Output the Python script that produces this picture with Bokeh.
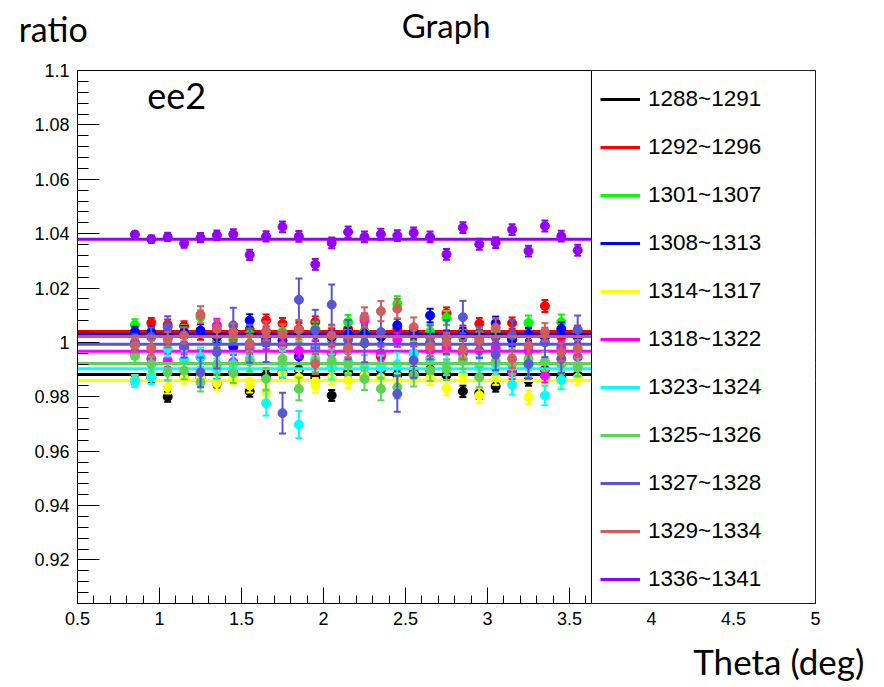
from bokeh.plotting import figure
from bokeh.models import (Range1d, SingleIntervalTicker, CustomJSTickFormatter, Label,
                          BoxAnnotation, Legend, LegendItem, ColumnDataSource)
from bokeh.embed import file_html
from bokeh.resources import INLINE

# ---------------- data ----------------
theta = [0.85, 0.95, 1.05, 1.15, 1.25, 1.35, 1.45, 1.55, 1.65, 1.75, 1.85, 1.95, 2.05, 2.15,
         2.25, 2.35, 2.45, 2.55, 2.65, 2.75, 2.85, 2.95, 3.05, 3.15, 3.25, 3.35, 3.45, 3.55]

labels = ["1288~1291", "1292~1296", "1301~1307", "1308~1313", "1314~1317", "1318~1322",
          "1323~1324", "1325~1326", "1327~1328", "1329~1334", "1336~1341"]
colors = ["#000000", "#ff0000", "#00ff00", "#0000ff", "#ffff00", "#ff00ff",
          "#00ffff", "#59d454", "#5954d8", "#d05c5e", "#9400f5"]

r_1288 = [0.986, 0.987, 0.980, 0.988, 0.987, 0.985, 0.989, 0.982, 0.988, 0.989, 0.990, 0.987, 0.9805, 0.989,
          0.988, 0.990, 0.988, 0.989, 0.990, 0.988, 0.982, 0.9813, 0.9838, 0.989, 0.986, 0.990, 0.987, 0.988]
r_1292 = [1.004, 1.0072, 1.0065, 1.006, 1.003, 1.0001, 1.004, 1.0047, 1.0081, 1.0069, 1.005, 1.0075, 1.003, 1.005,
          1.004, 0.9948, 1.005, 1.003, 1.002, 1.0108, 1.004, 1.0069, 1.002, 1.0071, 1.003, 1.0134, 1.002, 1.004]
r_1301 = [1.0065, 1.003, 1.002, 1.004, 1.0093, 1.0001, 1.001, 1.003, 1.002, 1.004, 1.003, 1.005, 1.001, 1.0075,
          1.004, 1.002, 1.0142, 1.003, 1.004, 1.009, 1.002, 1.003, 1.004, 1.001, 1.0072, 1.002, 1.0075, 1.003]
r_1308 = [1.0038, 1.0038, 1.002, 1.0038, 1.0044, 1.002, 0.9983, 1.0081, 1.001, 1.0007, 0.9948, 1.003, 1.002, 1.003,
          1.0032, 1.002, 1.0063, 1.004, 1.0099, 1.002, 1.003, 1.002, 1.0071, 1.001, 1.003, 1.002, 1.005, 1.002]
r_1314 = [0.986, 0.988, 0.9835, 0.987, 0.987, 0.985, 0.987, 0.9842, 0.9817, 0.9885, 0.987, 0.9842, 0.987, 0.986,
          0.988, 0.987, 0.986, 0.988, 0.987, 0.9832, 0.988, 0.9805, 0.987, 0.986, 0.9799, 0.987, 0.986, 0.987]
r_1318 = [0.9963, 0.994, 0.9934, 0.998, 0.9946, 1.0063, 0.9928, 0.998, 1.0001, 0.999, 0.997, 0.998, 0.996, 0.997,
          1.0081, 0.996, 1.001, 0.996, 0.997, 0.998, 0.996, 0.997, 0.998, 0.989, 0.997, 0.9878, 0.998, 0.9946]
r_1323 = [0.9857, 0.9872, 0.9978, 0.9937, 0.9946, 0.9903, 0.992, 0.994, 0.9776, 0.992, 0.9698, 0.994, 0.991, 0.993,
          0.991, 0.9909, 0.992, 0.996, 0.994, 0.992, 0.993, 0.991, 0.992, 0.9845, 0.991, 0.9805, 0.9863, 0.9909]
r_1325 = [0.995, 0.992, 0.989, 0.9897, 0.9854, 0.992, 0.9888, 0.993, 0.9866, 0.994, 0.9829, 0.993, 0.9934, 0.992,
          0.9866, 0.9829, 0.9835, 0.9878, 0.9897, 0.990, 0.994, 0.9872, 0.993, 0.992, 0.994, 0.993, 0.992, 0.991]
r_1327 = [1.000, 1.002, 1.0056, 0.9989, 0.989, 0.9964, 1.0063, 0.9995, 1.000, 0.974, 1.0157, 1.0044, 1.0139, 1.001,
          0.9997, 1.0038, 0.9811, 0.9934, 1.000, 1.002, 1.0093, 1.000, 0.9955, 1.0026, 0.9921, 1.000, 0.994, 1.0047]
r_1329 = [0.9989, 0.998, 1.001, 1.0026, 1.0102, 1.005, 1.0038, 0.9995, 1.0042, 1.0032, 1.0047, 0.9921, 1.0026, 0.998,
          1.0093, 1.0115, 1.0124, 1.0056, 0.9985, 1.0001, 0.9973, 1.0007, 1.0054, 0.994, 0.9989, 1.0038, 0.9964, 0.9977]
r_1336 = [1.0397, 1.038, 1.0388, 1.0364, 1.0385, 1.0394, 1.0398, 1.0322, 1.039, 1.0425, 1.039, 1.0287, 1.0366, 1.0406,
          1.0388, 1.0398, 1.0393, 1.0403, 1.0388, 1.0324, 1.0422, 1.0361, 1.0367, 1.0415, 1.0336, 1.0428, 1.0391, 1.0339]

e_1288 = [0.0015, 0.0016, 0.0018, 0.0016, 0.0017, 0.0016, 0.0018, 0.0020, 0.0018, 0.0019, 0.0021, 0.0019, 0.0020, 0.0019,
          0.0020, 0.0019, 0.0020, 0.0019, 0.0020, 0.0019, 0.0021, 0.0020, 0.0019, 0.0020, 0.0019, 0.0020, 0.0019, 0.0020]
e_1292 = [0.0020, 0.0018, 0.0019, 0.0018, 0.0020, 0.0019, 0.0021, 0.0020, 0.0022, 0.0021, 0.0022, 0.0021, 0.0022, 0.0021,
          0.0022, 0.0021, 0.0022, 0.0021, 0.0022, 0.0021, 0.0022, 0.0021, 0.0022, 0.0021, 0.0022, 0.0022, 0.0021, 0.0022]
e_1301 = [0.0020, 0.0022, 0.0024, 0.0023, 0.0025, 0.0024, 0.0026, 0.0025, 0.0027, 0.0026, 0.0027, 0.0026, 0.0027, 0.0026,
          0.0027, 0.0026, 0.0028, 0.0027, 0.0027, 0.0026, 0.0027, 0.0026, 0.0027, 0.0026, 0.0027, 0.0026, 0.0028, 0.0027]
e_1308 = [0.0020, 0.0021, 0.0022, 0.0022, 0.0023, 0.0022, 0.0024, 0.0023, 0.0024, 0.0023, 0.0024, 0.0023, 0.0024, 0.0023,
          0.0024, 0.0023, 0.0024, 0.0023, 0.0025, 0.0024, 0.0024, 0.0023, 0.0024, 0.0023, 0.0024, 0.0023, 0.0024, 0.0023]
e_1314 = [0.0020, 0.0022, 0.0023, 0.0022, 0.0024, 0.0025, 0.0024, 0.0026, 0.0025, 0.0026, 0.0025, 0.0027, 0.0026, 0.0027,
          0.0026, 0.0027, 0.0026, 0.0027, 0.0026, 0.0027, 0.0026, 0.0027, 0.0026, 0.0027, 0.0026, 0.0027, 0.0026, 0.0027]
e_1318 = [0.0022, 0.0023, 0.0024, 0.0023, 0.0025, 0.0024, 0.0026, 0.0025, 0.0026, 0.0025, 0.0026, 0.0025, 0.0026, 0.0025,
          0.0026, 0.0025, 0.0026, 0.0025, 0.0026, 0.0025, 0.0026, 0.0025, 0.0026, 0.0025, 0.0026, 0.0025, 0.0026, 0.0025]
e_1323 = [0.0022, 0.0025, 0.0030, 0.0032, 0.0035, 0.0038, 0.0040, 0.0042, 0.0045, 0.0048, 0.0050, 0.0048, 0.0046, 0.0045,
          0.0044, 0.0043, 0.0042, 0.0041, 0.0040, 0.0040, 0.0039, 0.0038, 0.0038, 0.0037, 0.0036, 0.0036, 0.0035, 0.0035]
e_1325 = [0.0025, 0.0028, 0.0030, 0.0032, 0.0034, 0.0035, 0.0037, 0.0038, 0.0040, 0.0041, 0.0042, 0.0041, 0.0040, 0.0040,
          0.0041, 0.0042, 0.0041, 0.0040, 0.0039, 0.0038, 0.0038, 0.0037, 0.0037, 0.0036, 0.0036, 0.0035, 0.0035, 0.0034]
e_1327 = [0.0030, 0.0035, 0.0040, 0.0045, 0.0055, 0.0060, 0.0065, 0.0070, 0.0072, 0.0075, 0.0078, 0.0076, 0.0074, 0.0072,
          0.0070, 0.0068, 0.0066, 0.0064, 0.0062, 0.0062, 0.0060, 0.0058, 0.0057, 0.0056, 0.0055, 0.0054, 0.0053, 0.0052]
e_1329 = [0.0025, 0.0027, 0.0028, 0.0030, 0.0031, 0.0032, 0.0033, 0.0034, 0.0035, 0.0036, 0.0036, 0.0037, 0.0036, 0.0036,
          0.0036, 0.0037, 0.0036, 0.0036, 0.0035, 0.0035, 0.0035, 0.0034, 0.0034, 0.0034, 0.0033, 0.0033, 0.0033, 0.0032]
e_1336 = [0.0010, 0.0013, 0.0015, 0.0016, 0.0017, 0.0018, 0.0018, 0.0019, 0.0019, 0.0020, 0.0020, 0.0020, 0.0020, 0.0020,
          0.0020, 0.0020, 0.0020, 0.0020, 0.0020, 0.0020, 0.0020, 0.0020, 0.0020, 0.0020, 0.0020, 0.0020, 0.0020, 0.0020]

fits = [0.9882, 1.0040, 1.0028, 1.0030, 0.9860, 0.9968, 0.9903, 0.9923, 0.9993, 1.0022, 1.0379]

series = [r_1288, r_1292, r_1301, r_1308, r_1314, r_1318, r_1323, r_1325, r_1327, r_1329, r_1336]
errors = [e_1288, e_1292, e_1301, e_1308, e_1314, e_1318, e_1323, e_1325, e_1327, e_1329, e_1336]

X_MIN, X_MAX = 0.5, 5.0
Y_MIN, Y_MAX = 0.904, 1.1
LEGEND_X0 = 3.634

# ---------------- figure ----------------
p = figure(width=884, height=687, output_backend="svg", toolbar_location=None,
           x_range=Range1d(X_MIN, X_MAX), y_range=Range1d(Y_MIN, Y_MAX),
           min_border_left=77, min_border_right=67, min_border_top=70, min_border_bottom=84)
p.grid.visible = False
p.outline_line_color = "black"
p.outline_line_width = 1
p.background_fill_color = "white"
p.border_fill_color = "white"

p.xaxis.ticker = SingleIntervalTicker(interval=0.5, num_minor_ticks=5)
p.yaxis.ticker = SingleIntervalTicker(interval=0.02, num_minor_ticks=5)
fmt = CustomJSTickFormatter(code="return String(parseFloat(tick.toFixed(4)));")
for ax in (p.xaxis[0], p.yaxis[0]):
    ax.formatter = fmt
    ax.major_tick_out = 0
    ax.minor_tick_out = 0
    ax.major_label_text_font = "Liberation Sans"
    ax.major_label_text_font_size = "18px"
    ax.major_label_text_color = "black"
    ax.axis_line_color = "black"
    ax.major_tick_line_color = "black"
    ax.minor_tick_line_color = "black"
    ax.major_label_standoff = 8
p.xaxis.major_tick_in = 16
p.xaxis.minor_tick_in = 8
p.yaxis.major_tick_in = 22
p.yaxis.minor_tick_in = 11

items = []
for lab, col, ys, es, fit in zip(labels, colors, series, errors, fits):
    lo = [y - e for y, e in zip(ys, es)]
    hi = [y + e for y, e in zip(ys, es)]
    src = ColumnDataSource(dict(x=theta, y=ys, lo=lo, hi=hi))
    p.segment(x0="x", y0="lo", x1="x", y1="hi", source=src, line_color=col, line_width=2)
    p.scatter(x="x", y="lo", source=src, marker="dash", size=7, line_color=col, line_width=2)
    p.scatter(x="x", y="hi", source=src, marker="dash", size=7, line_color=col, line_width=2)
    p.scatter(x="x", y="y", source=src, marker="circle", size=9, fill_color=col, line_color=col)
    r = p.line(x=[X_MIN, X_MAX], y=[fit, fit], line_color=col, line_width=3)
    items.append(LegendItem(label=lab, renderers=[r]))

# legend box
p.add_layout(BoxAnnotation(left=LEGEND_X0, fill_color="white", fill_alpha=1.0,
                           line_color="black", line_width=1, line_alpha=1.0))
legend = Legend(items=items, location=(523, 11), padding=0, margin=0, spacing=22,
                label_height=26, glyph_height=26, glyph_width=40, label_standoff=8,
                label_text_font="Liberation Sans", label_text_font_size="22.5px",
                label_text_color="black",
                background_fill_alpha=0, border_line_alpha=0)
p.add_layout(legend)

# texts (placed in data coordinates, hosted in side panels so they are not clipped)
font = "Lato"
p.add_layout(Label(x=0.1412, y=1.1153, text="ratio", text_color="black",
                   text_font=font, text_font_size="34px", text_baseline="alphabetic"), "right")
p.add_layout(Label(x=2.748, y=1.1168, text="Graph", text_color="black",
                   text_font=font, text_font_size="33px", text_align="center",
                   text_baseline="alphabetic"), "above")
p.add_layout(Label(x=5.298, y=0.8830, text="Theta (deg)", text_color="black",
                   text_font=font, text_font_size="35px", text_align="right",
                   text_baseline="alphabetic"), "below")
p.add_layout(Label(x=0.9257, y=1.0907, text="ee2", text_color="black",
                   text_font=font, text_font_size="36px", text_baseline="alphabetic"))

open("out.html", "w").write(file_html(p, INLINE))
